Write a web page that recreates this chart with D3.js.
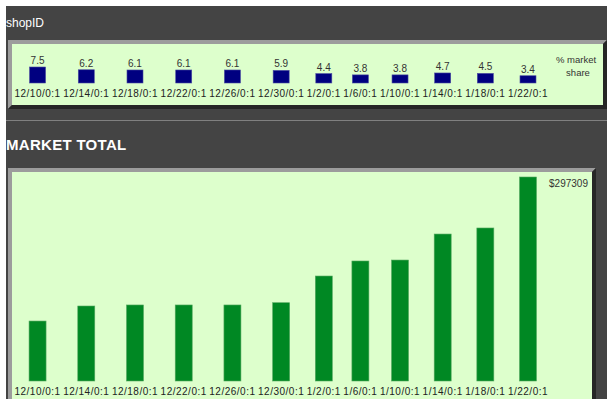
<!DOCTYPE html>
<html>
<head>
<meta charset="utf-8">
<script src="https://cdn.jsdelivr.net/npm/d3@7/dist/d3.min.js"></script>
<style>
  html, body { margin: 0; padding: 0; background: #ffffff; }
  svg { display: block; }
  text { font-family: "Liberation Sans", Arial, sans-serif; }
</style>
</head>
<body>
<svg id="chart" width="607" height="403"></svg>
<script>
// Reporting periods (one column each)
const dates = ["12/10/0:1", "12/14/0:1", "12/18/0:1", "12/22/0:1", "12/26/0:1", "12/30/0:1",
               "1/2/0:1", "1/6/0:1", "1/10/0:1", "1/14/0:1", "1/18/0:1", "1/22/0:1"];
// Shop's share of the market, percent
const shareValues = [7.5, 6.2, 6.1, 6.1, 6.1, 5.9, 4.4, 3.8, 3.8, 4.7, 4.5, 3.4];
// Total market sales, dollars
const marketTotals = [87400, 109300, 110800, 110800, 110800, 114100,
                      153000, 174900, 176300, 214200, 223000, 297309];

const svg = d3.select("#chart");
const W = 607, H = 403;

// page frame
svg.append("rect").attr("x", 6).attr("y", 6).attr("width", W - 6).attr("height", 393).attr("fill", "#444444");

// raised panel: light top/left edge, dark bottom/right edge, green face
function panel(x0, y0, x1, y1, b) {
  const g = svg.append("g");
  g.append("path").attr("fill", "#9c9c9c")
    .attr("d", `M${x0},${y0}L${x1},${y0}L${x1 - b},${y0 + b}L${x0 + b},${y0 + b}L${x0 + b},${y1 - b}L${x0},${y1}Z`);
  g.append("path").attr("fill", "#262626")
    .attr("d", `M${x1},${y0}L${x1},${y1}L${x0},${y1}L${x0 + b},${y1 - b}L${x1 - b},${y1 - b}L${x1 - b},${y0 + b}Z`);
  g.append("rect").attr("x", x0 + b).attr("y", y0 + b)
    .attr("width", x1 - x0 - 2 * b).attr("height", y1 - y0 - 2 * b).attr("fill", "#ddffcc");
  return g;
}

// headings
svg.append("text").attr("x", 6).attr("y", 27).attr("fill", "#ffffff")
  .style("font-size", "12px").text("shopID");
svg.append("line").attr("x1", 6).attr("x2", W).attr("y1", 120.5).attr("y2", 120.5)
  .attr("stroke", "#808080").attr("stroke-width", 1);
svg.append("text").attr("x", 6).attr("y", 150).attr("fill", "#ffffff")
  .style("font-size", "15px").style("font-weight", "bold").style("letter-spacing", "0.3px")
  .text("MARKET TOTAL");

panel(8, 40, 607, 109, 4);
panel(8, 168, 596, 404, 4);
svg.append("rect").attr("x", 0).attr("y", 399).attr("width", W).attr("height", 4).attr("fill", "#ffffff");

// columns are sized to their date labels
const labelStyle = sel => sel.style("font-size", "10px").style("letter-spacing", "0.5px").attr("fill", "#222222");
const probe = svg.append("g").attr("opacity", 0);
const widths = dates.map(d => {
  const t = labelStyle(probe.append("text")).text(d);
  return t.node().getComputedTextLength() + 2.5;
});
probe.remove();
const centers = [];
let acc = 13.2;
widths.forEach(w => { centers.push(acc + w / 2); acc += w; });
const x = d3.scaleOrdinal().domain(dates).range(centers);

// ---- market share strip ----
const shareH = d3.scaleLinear().domain([0, d3.max(shareValues)]).range([0, 16]);
const shareBase = 83;
const shareG = svg.append("g");
shareG.selectAll("rect.share").data(dates).join("rect")
  .attr("class", "share")
  .attr("x", d => x(d) - 8)
  .attr("width", 16)
  .attr("y", (d, i) => shareBase - shareH(shareValues[i]))
  .attr("height", (d, i) => shareH(shareValues[i]))
  .attr("fill", "#000080").attr("stroke", "#4a4aa0").attr("stroke-width", 0.6);
shareG.selectAll("text.val").data(dates).join("text")
  .attr("class", "val")
  .attr("x", d => x(d))
  .attr("y", (d, i) => shareBase - shareH(shareValues[i]) - 3)
  .attr("text-anchor", "middle")
  .style("font-size", "10px").attr("fill", "#333333")
  .text((d, i) => shareValues[i]);
shareG.selectAll("text.date").data(dates).join("text")
  .attr("class", "date")
  .attr("x", d => x(d))
  .attr("y", 96.5)
  .attr("text-anchor", "middle")
  .call(labelStyle)
  .text(d => d);
const legend = shareG.append("text").attr("text-anchor", "middle")
  .style("font-size", "9.5px").attr("fill", "#333333");
legend.append("tspan").attr("x", 576).attr("y", 63).text("% market");
legend.append("tspan").attr("x", 578).attr("y", 76).text("share");

// ---- market total bars ----
const y = d3.scaleLinear().domain([0, d3.max(marketTotals)]).range([381, 177]);
const totalG = svg.append("g");
totalG.selectAll("rect.total").data(dates).join("rect")
  .attr("class", "total")
  .attr("x", d => x(d) - 8.5)
  .attr("width", 17)
  .attr("y", (d, i) => y(marketTotals[i]))
  .attr("height", (d, i) => y(0) - y(marketTotals[i]))
  .attr("fill", "#008823").attr("stroke", "#55a860").attr("stroke-width", 0.6);
totalG.selectAll("text.date").data(dates).join("text")
  .attr("class", "date")
  .attr("x", d => x(d))
  .attr("y", 395)
  .attr("text-anchor", "middle")
  .call(labelStyle)
  .text(d => d);
totalG.append("text")
  .attr("x", 588).attr("y", 187).attr("text-anchor", "end")
  .style("font-size", "10px").attr("fill", "#333333")
  .text("$" + d3.max(marketTotals));
</script>
</body>
</html>
